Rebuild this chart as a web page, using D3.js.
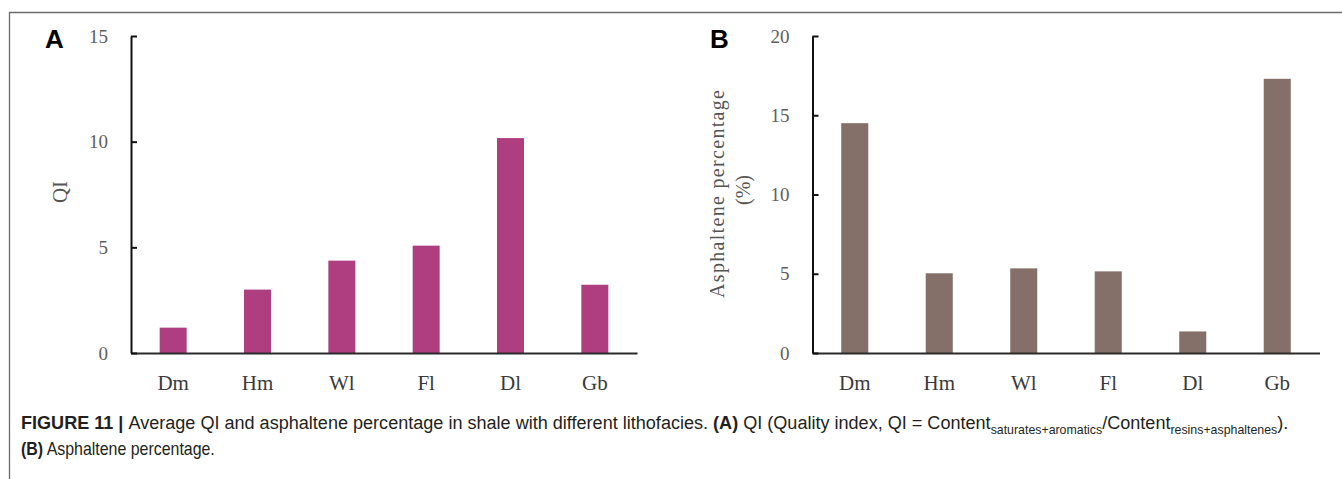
<!DOCTYPE html>
<html>
<head>
<meta charset="utf-8">
<script src="https://cdn.jsdelivr.net/npm/d3@7"></script>
<style>
  body { margin: 0; background: #fff; }
  svg { display: block; }
</style>
</head>
<body>
<svg id="chart" width="1342" height="479"></svg>
<script>
var lithofacies = ["Dm", "Hm", "Wl", "Fl", "Dl", "Gb"],
    qiValues = [1.2, 3.0, 4.37, 5.08, 10.17, 3.23],
    asphalteneValues = [14.5, 5.03, 5.34, 5.15, 1.36, 17.3],
    qiTicks = [0, 5, 10, 15],
    asphalteneTicks = [0, 5, 10, 15, 20];

var svg = d3.select("#chart");

// frame of the figure (top and left rule)
svg.append("path")
  .attr("d", "M9.5,479V12.5H1342")
  .attr("fill", "none")
  .attr("stroke", "#6b6b6b")
  .attr("stroke-width", 1.3);

function drawPanel(opts) {
  var xScale = d3.scaleBand()
        .domain(lithofacies)
        .range([opts.x0, opts.x1])
        .paddingInner(0.68)
        .paddingOuter(0.34),
      yScale = d3.scaleLinear()
        .domain([0, opts.max])
        .range([353, 36]);

  var g = svg.append("g");

  g.selectAll("rect")
    .data(opts.values)
    .enter()
    .append("rect")
      .attr("x", (d, i) => xScale(lithofacies[i]))
      .attr("y", d => yScale(d))
      .attr("width", xScale.bandwidth())
      .attr("height", d => yScale(0) - yScale(d))
      .style("fill", opts.color);

  // x axis: plain line, labels only
  var xAxis = g.append("g")
    .attr("transform", "translate(0," + yScale(0) + ")")
    .call(d3.axisBottom(xScale).tickSize(0).tickPadding(22));
  xAxis.select(".domain").attr("stroke", "#2a2a2a").attr("stroke-width", 2);
  xAxis.selectAll("text")
    .style("font-family", "'Liberation Serif', 'Times New Roman', serif")
    .style("font-size", "21px")
    .style("fill", "#3a3a3a");

  // y axis with ticks pointing into the plot
  var yAxis = g.append("g")
    .attr("transform", "translate(" + opts.x0 + ",0)")
    .call(d3.axisLeft(yScale).tickValues(opts.ticks).tickSizeInner(-6).tickSizeOuter(0).tickPadding(23));
  yAxis.select(".domain").attr("stroke", "#111").attr("stroke-width", 2);
  yAxis.selectAll(".tick line").attr("stroke", "#111").attr("stroke-width", 2);
  yAxis.selectAll("text")
    .style("font-family", "'Liberation Serif', 'Times New Roman', serif")
    .style("font-size", "19px")
    .style("fill", "#5e5e5e");

  // panel letter
  svg.append("text")
    .attr("x", opts.letterX)
    .attr("y", 47.5)
    .style("font-family", "'Liberation Sans', Arial, sans-serif")
    .style("font-weight", "bold")
    .style("font-size", "26px")
    .style("fill", "#000")
    .text(opts.letter);

  return yScale;
}

drawPanel({x0: 131, x1: 637, max: 15, ticks: qiTicks, values: qiValues,
           color: "#ae3e80", letter: "A", letterX: 45});
drawPanel({x0: 812.5, x1: 1319.5, max: 20, ticks: asphalteneTicks, values: asphalteneValues,
           color: "#857069", letter: "B", letterX: 710});

var serif = "'Liberation Serif', 'Times New Roman', serif";

svg.append("text")
  .attr("transform", "translate(67,192) rotate(-90)")
  .attr("text-anchor", "middle")
  .style("font-family", serif)
  .style("font-size", "21px")
  .style("fill", "#555")
  .text("QI");

svg.append("text")
  .attr("transform", "translate(724,194) rotate(-90)")
  .attr("text-anchor", "middle")
  .attr("textLength", 208)
  .attr("lengthAdjust", "spacing")
  .style("font-family", serif)
  .style("font-size", "20px")
  .style("fill", "#555")
  .text("Asphaltene percentage");

svg.append("text")
  .attr("transform", "translate(750,190) rotate(-90)")
  .attr("text-anchor", "middle")
  .style("font-family", serif)
  .style("font-size", "20px")
  .style("fill", "#555")
  .text("(%)");

// caption, squeezed horizontally to the narrow face of the original
var captionLines = [
  {y: 429, width: 1268, parts: [
    {t: "FIGURE 11 | ", b: true},
    {t: "Average QI and asphaltene percentage in shale with different lithofacies. "},
    {t: "(A)", b: true},
    {t: " QI (Quality index, QI = Content"},
    {t: "saturates+aromatics", sub: true},
    {t: "/Content"},
    {t: "resins+asphaltenes", sub: true},
    {t: ")."}
  ]},
  {y: 455, width: 194, parts: [
    {t: "(B)", b: true},
    {t: " Asphaltene percentage."}
  ]}
];

captionLines.forEach(function(line) {
  var g = svg.append("g");
  var text = g.append("text")
    .attr("x", 0)
    .attr("y", 0)
    .style("font-family", "'Liberation Sans', Arial, sans-serif")
    .style("font-size", "19px")
    .style("fill", "#231f20");
  var shifted = false;
  line.parts.forEach(function(p) {
    var span = text.append("tspan").text(p.t);
    if (p.b) span.style("font-weight", "bold");
    if (p.sub) {
      span.style("font-size", "13px").attr("dy", 5);
      shifted = true;
    } else if (shifted) {
      span.attr("dy", -5);
      shifted = false;
    }
  });
  var w = text.node().getComputedTextLength();
  g.attr("transform", "translate(21," + line.y + ") scale(" + (line.width / w) + ",1)");
});
</script>
</body>
</html>
